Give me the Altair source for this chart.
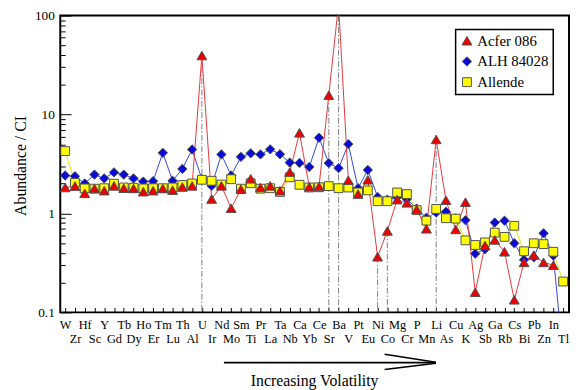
import altair as alt
import pandas as pd

elements = ["W", "Zr", "Hf", "Sc", "Y", "Gd", "Tb", "Dy", "Ho", "Er", "Tm", "Lu", "Th", "Al",
            "U", "Ir", "Nd", "Mo", "Sm", "Ti", "Pr", "La", "Ta", "Nb", "Ca", "Yb", "Ce", "Sr",
            "Ba", "V", "Pt", "Eu", "Ni", "Co", "Mg", "Cr", "P", "Mn", "Li", "As", "Cu", "K",
            "Ag", "Sb", "Ga", "Rb", "Cs", "Bi", "Pb", "Zn", "In", "Tl"]

acfer = [1.83, 1.89, 1.60, 1.79, 1.70, 1.90, 1.80, 1.79, 1.66, 1.70, 1.79, 1.72, 1.85, 1.90,
         39.5, 1.40, 1.90, 1.13, 1.76, 2.24, 1.83, 1.90, 1.70, 2.62, 6.53, 1.86, 1.87, 15.7,
         130, 2.17, 1.57, 2.19, 0.365, 0.666, 1.38, 1.28, 1.10, 0.70, 5.6, 1.36, 0.69, 1.30,
         0.16, 0.475, 0.54, 0.41, 0.134, 0.32, 0.38, 0.32, 0.30, None]

alh = [2.42, 2.38, 2.01, 2.47, 2.26, 2.60, 2.47, 2.26, 2.10, 2.12, 4.10, 2.14, 2.82, 4.43,
       2.22, 1.90, 3.95, 2.42, 3.73, 4.05, 3.95, 4.45, 3.97, 3.27, 3.24, 2.95, 5.82, 3.23,
       2.87, 5.02, 1.80, 2.75, 1.47, 1.38, 1.46, 1.40, 1.12, 0.905, 1.02, 1.04, 0.89, 0.855,
       0.392, 0.435, 0.81, 0.845, 0.50, 0.34, 0.36, 0.63, 0.375, 0.035]

allende = [4.27, 2.04, 1.79, 1.78, 1.80, 2.00, 1.83, 1.82, 1.79, 1.80, 1.80, 1.83, 1.94, 2.01,
           2.19, 2.14, 1.96, 2.22, 1.78, 2.02, 1.78, 1.80, 1.65, 2.32, 1.95, 1.83, 1.84, 1.89,
           1.80, 1.83, 1.63, 1.71, 1.33, 1.33, 1.63, 1.57, 1.08, 0.845, 1.11, 0.895, 0.887, 0.535,
           0.48, 0.51, 0.64, 0.58, 0.75, 0.415, 0.50, 0.49, 0.41, 0.205]

series_names = ["Acfer 086", "ALH 84028", "Allende"]
series_values = [acfer, alh, allende]
draw_rank = [2, 0, 1]
fill_colors = ["#ee0000", "#0a0ad8", "#ffff00"]
line_colors = ["#e2383c", "#3048dc", "#e8e800"]
shapes = ["triangle-up", "diamond", "square"]
sizes = [100, 80, 85]

spikes = ["U", "Sr", "Ba", "Ni", "Co", "Li"]
y_major = [0.1, 1, 10, 100]
y_ticks = [m * d for d in [0.1, 1, 10] for m in range(1, 10)] + [100]
y_ticks = [float(f"{v:.6g}") for v in y_ticks]

rows = []
for name, vals, rk in zip(series_names, series_values, draw_rank):
    for i, (el, v) in enumerate(zip(elements, vals)):
        if v is not None:
            rows.append({"idx": i, "element": el, "series": name, "value": v, "rank": rk})
df = pd.DataFrame(rows)

spike_df = pd.DataFrame({
    "idx": [elements.index(s) for s in spikes],
    "value": [acfer[elements.index(s)] for s in spikes],
})

FONT = "Liberation Serif"
W, H = 516, 301

x_scale = alt.Scale(domain=[-0.505, 51.606], nice=False, zero=False)
y_scale = alt.Scale(type="log", domain=[0.1, 100], nice=False)

names_js = "[" + ",".join(f"'{e}'" for e in elements) + "]"

x_label_axis = alt.Axis(
    values=list(range(len(elements))), labelExpr=names_js + "[round(datum.value)]",
    ticks=False, tickSize=0, domain=False, grid=False,
    labelFont=FONT, labelFontSize=12.5, labelColor="black", labelBaseline="alphabetic",
    labelPadding={"condition": {"test": "round(datum.value) % 2 == 1", "value": 30.5}, "value": 16},
    labelOverlap=False, labelFlush=False, title=None,
)
y_label_axis = alt.Axis(
    values=y_major, format="~g", ticks=False, tickSize=0, domain=False, grid=False,
    labelFont=FONT, labelFontSize=13.5, labelColor="black", labelPadding=6,
    title="Abundance / CI", titleFont=FONT, titleFontSize=16, titleFontWeight="normal",
    titleColor="black", titleX=-40, titleY=152, titleAngle=270, titleAlign="center",
    titleBaseline="middle",
)
x_tick_axis = alt.Axis(
    orient="top", offset=-H, values=list(range(len(elements))), labels=False, domain=False,
    grid=False, tickSize=5, tickColor="black", tickWidth=1, title=None,
)
y_tick_axis = alt.Axis(
    orient="right", offset=-W, values=y_ticks, labels=False, domain=False, grid=False,
    tickSize={"condition": {"test": "datum.value == 0.1 || datum.value == 1 || datum.value == 10 || datum.value == 100", "value": 11}, "value": 5},
    tickColor="black", tickWidth=1, title=None,
)

rules = alt.Chart(spike_df).mark_rule(
    color="#808080", strokeDash=[6, 2, 1.5, 2], strokeWidth=1, clip=True
).encode(
    x=alt.X("idx:Q", scale=x_scale, axis=x_label_axis),
    y=alt.Y("value:Q", scale=y_scale, axis=y_label_axis),
    y2=alt.datum(0.1),
)

line_layers = []
for k, (name, col) in enumerate(sorted(zip(series_names, line_colors),
                                       key=lambda t: draw_rank[series_names.index(t[0])])):
    line_layers.append(
        alt.Chart(df).transform_filter(alt.datum.series == name).mark_line(
            color=col, strokeWidth=1, clip=True
        ).encode(
            x=alt.X("idx:Q", scale=x_scale, axis=x_tick_axis if k == 0 else None),
            y=alt.Y("value:Q", scale=y_scale, axis=y_tick_axis if k == 0 else None),
        )
    )

leg = alt.Legend(
    title=None, orient="none", legendX=401, legendY=14, direction="vertical",
    fillColor="white", strokeColor="black", padding=4, labelFont=FONT, labelFontSize=15,
    labelColor="black", labelOffset=3, symbolSize=90, symbolStrokeColor="#505050",
    symbolStrokeWidth=1, rowPadding=5,
)

points = alt.Chart(df).mark_point(
    filled=True, opacity=1, stroke="#505050", strokeWidth=1, clip=True
).encode(
    x=alt.X("idx:Q", scale=x_scale, axis=None),
    y=alt.Y("value:Q", scale=y_scale, axis=None),
    color=alt.Color("series:N", scale=alt.Scale(domain=series_names, range=fill_colors), legend=leg),
    shape=alt.Shape("series:N", scale=alt.Scale(domain=series_names, range=shapes), legend=leg),
    size=alt.Size("series:N", scale=alt.Scale(domain=series_names, range=sizes), legend=None),
    order=alt.Order("rank:Q"),
)

deco = pd.DataFrame({"k": [0]})
shaft = alt.Chart(deco).mark_rule(color="black", strokeWidth=1.8).encode(
    x=alt.value(166), x2=alt.value(381), y=alt.value(352), y2=alt.value(352))
head_up = alt.Chart(deco).mark_rule(color="black", strokeWidth=1.6).encode(
    x=alt.value(329), x2=alt.value(381), y=alt.value(343.5), y2=alt.value(351.5))
head_dn = alt.Chart(deco).mark_rule(color="black", strokeWidth=1.6).encode(
    x=alt.value(329), x2=alt.value(381), y=alt.value(359), y2=alt.value(352.5))
caption = alt.Chart(deco).mark_text(
    text="Increasing Volatility", font=FONT, fontSize=16, align="center",
    baseline="alphabetic", color="black"
).encode(x=alt.value(258), y=alt.value(375.5))

chart = alt.layer(
    rules, *line_layers, points, shaft, head_up, head_dn, caption
).resolve_axis(
    x="independent", y="independent"
).properties(
    width=W, height=H,
    autosize=alt.AutoSizeParams(type="none"),
    padding={"left": 53, "top": 5, "right": 1, "bottom": 76},
).configure_view(
    stroke="black", strokeWidth=2
).configure_legend(
    strokeWidth=1.5
)

chart.save("out.html", embed_options={"renderer": "svg", "actions": False})
